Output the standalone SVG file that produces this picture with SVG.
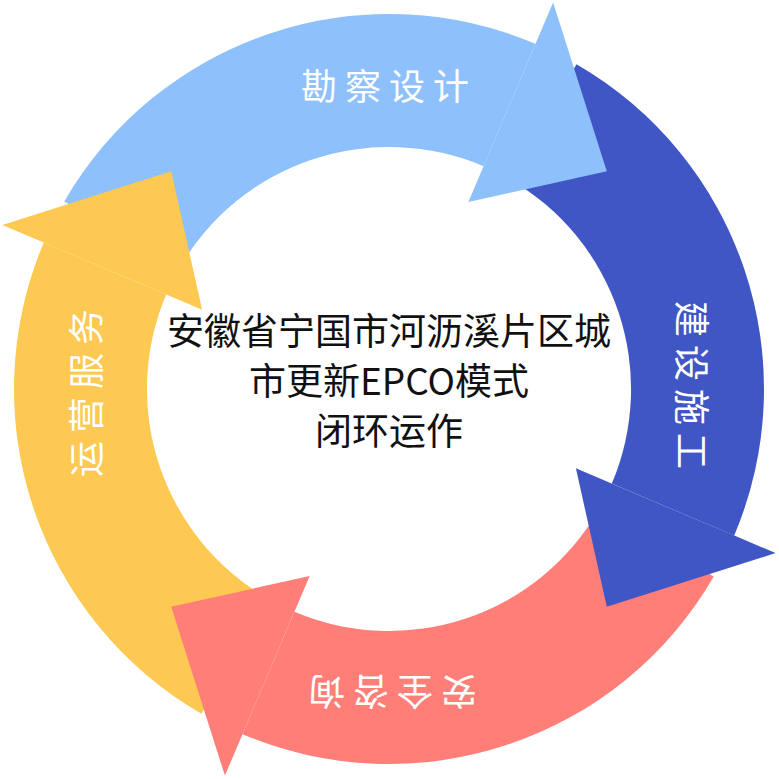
<svg xmlns="http://www.w3.org/2000/svg" width="779" height="779" viewBox="0 0 779 779">
<defs>
<path id="body" d="M576.5,64.25 A375,375 0 0 1 734.2,535.5 L611.8,483.6 A242,242 0 0 0 510,179.4 Z"/>
<polygon id="head" points="733.2,535.1 775.6,553.1 606.8,606.8 575.9,468.3 612.8,484"/>
</defs>
<style>
.lbl{font-family:"Noto Sans CJK SC",sans-serif;font-size:36px;fill:#fff;text-anchor:middle;dominant-baseline:central;letter-spacing:8px}
.ctr{font-family:"Noto Sans CJK SC",sans-serif;font-size:37px;fill:#111;text-anchor:middle}
</style>
<rect width="779" height="779" fill="#fff"/>
<g id="bodies">
<use href="#body" fill="#4056C4"/>
<use href="#body" fill="#FF7F78" transform="rotate(90 389 389)"/>
<use href="#body" fill="#FDC952" transform="rotate(180 389 389)"/>
<use href="#body" fill="#8EC0FC" transform="rotate(270 389 389)"/>
</g>
<g id="connectors">
<use href="#head" fill="#4056C4"/>
<use href="#head" fill="#FF7F78" transform="rotate(90 389 389)"/>
<use href="#head" fill="#FDC952" transform="rotate(180 389 389)"/>
<use href="#head" fill="#8EC0FC" transform="rotate(270 389 389)"/>
</g>
<g id="n1"><text class="lbl" x="389" y="84">勘察设计</text></g>
<g id="n2"><text class="lbl" x="389" y="84" transform="rotate(90 389 389)">建设施工</text></g>
<g id="n3"><text class="lbl" x="389" y="84" transform="rotate(180 389 389)">安全咨询</text></g>
<g id="n4"><text class="lbl" x="389" y="84" transform="rotate(270 389 389)">运营服务</text></g>
<g id="center">
<text class="ctr" x="389" y="345">安徽省宁国市河沥溪片区城</text>
<text class="ctr" x="389" y="395">市更新EPCO模式</text>
<text class="ctr" x="389" y="445">闭环运作</text>
</g>
</svg>
